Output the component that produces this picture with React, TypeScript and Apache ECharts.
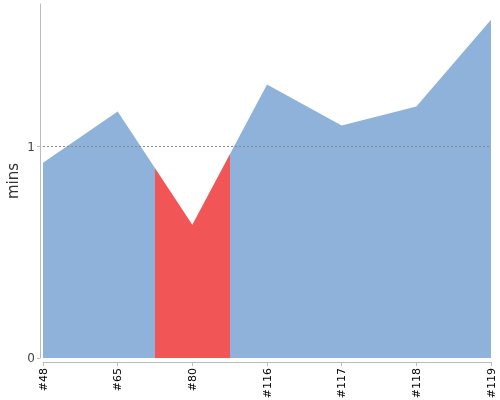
import React, { useEffect, useRef } from "react";
import * as echarts from "echarts";

const categories = ["#48", "#65", "#80", "#116", "#117", "#118", "#119"];
const minutes = [0.924, 1.166, 0.63, 1.294, 1.1, 1.19, 1.6];
const yTicks = [0, 1];
const threshold = 1;
const highlightIndex = 2;

export default function App() {
  const ref = useRef<HTMLDivElement>(null);
  useEffect(() => {
    const chart = echarts.init(ref.current!, null, { renderer: "svg" });
    const last = categories.length - 1;
    chart.setOption({
      animation: false,
      grid: {
        left: 43,
        right: 9,
        top: 4,
        bottom: 42,
        containLabel: false,
        outerBoundsMode: "none",
      },
      visualMap: {
        show: false,
        dimension: 0,
        seriesIndex: 0,
        pieces: [
          { gte: 0, lte: highlightIndex - 0.5, color: "#8FB2DB" },
          { gt: highlightIndex - 0.5, lte: highlightIndex + 0.5, color: "#F25555" },
          { gt: highlightIndex + 0.5, lte: last, color: "#8FB2DB" },
        ],
      },
      xAxis: {
        type: "value",
        min: 0,
        max: last,
        interval: 1,
        offset: 4,
        axisLine: { onZero: false, lineStyle: { color: "#bbbbbb", width: 1 } },
        axisTick: { length: 4, lineStyle: { color: "#bbbbbb" } },
        axisLabel: {
          rotate: 90,
          color: "#000",
          fontSize: 11,
          fontFamily: "DejaVu Sans",
          margin: 6,
          formatter: (v: number) => categories[Math.round(v)] ?? "",
        },
        splitLine: { show: false },
      },
      yAxis: {
        type: "value",
        min: 0,
        max: 1.675,
        offset: 3,
        name: "mins",
        nameLocation: "middle",
        nameGap: 20,
        nameMoveOverlap: false,
        nameTextStyle: { color: "#333", fontSize: 15, fontFamily: "DejaVu Sans" },
        axisLine: { show: true, onZero: false, lineStyle: { color: "#bbbbbb", width: 1 } },
        axisTick: { show: true, length: 3, customValues: yTicks, lineStyle: { color: "#bbbbbb" } },
        axisLabel: {
          customValues: yTicks,
          color: "#444",
          fontSize: 12,
          fontFamily: "DejaVu Sans",
          margin: 5,
        },
        splitLine: { show: false },
      },
      series: [
        {
          type: "line",
          data: minutes.map((v, i) => [i, v]),
          showSymbol: false,
          symbol: "none",
          lineStyle: { width: 0 },
          areaStyle: { opacity: 1 },
          markLine: {
            silent: true,
            symbol: "none",
            label: { show: false },
            lineStyle: { color: "#888", type: [2, 2], width: 1 },
            data: [{ yAxis: threshold }],
          },
        },
      ],
    });
    return () => chart.dispose();
  }, []);
  return (
    <div
      ref={ref}
      style={{ position: "fixed", left: 0, top: 0, width: 500, height: 400 }}
    />
  );
}
